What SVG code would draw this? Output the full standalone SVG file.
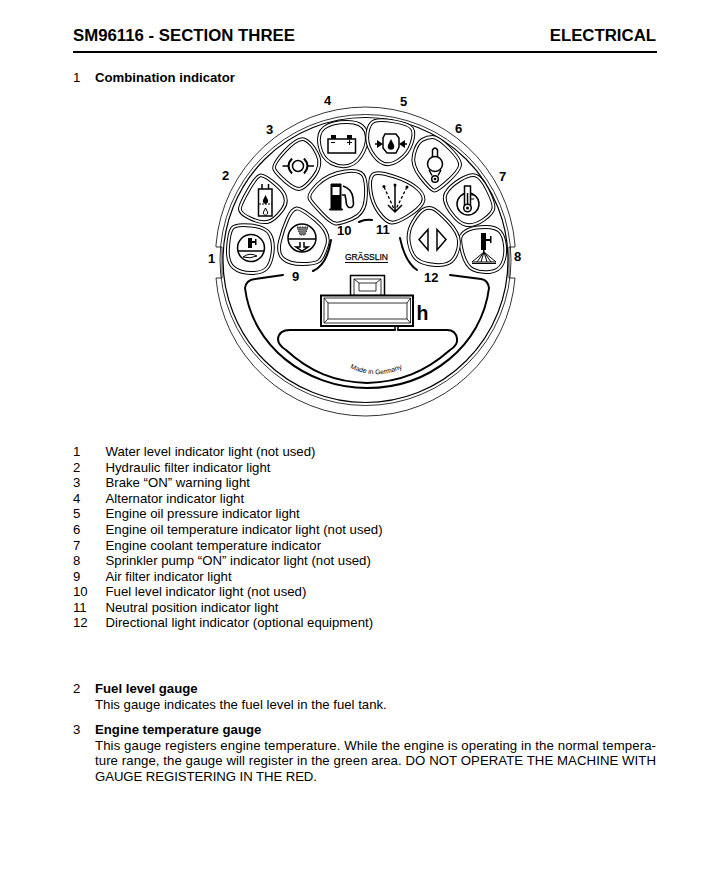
<svg xmlns="http://www.w3.org/2000/svg" width="703" height="869" viewBox="0 0 703 869">
<style>
text{font-family:"Liberation Sans",Arial,sans-serif;fill:#000}
.t{font-size:13.2px}
.b{font-size:13.2px;font-weight:700}
.n{font-size:13px;font-weight:700}
.line{fill:none;stroke:#000;stroke-width:1}
.thin{fill:none;stroke:#000;stroke-width:.8}
.thick{fill:none;stroke:#000;stroke-width:2;stroke-linecap:round}
.pa{fill:#fff;stroke:#000;stroke-width:3.8}
.pb{fill:none;stroke:#fff;stroke-width:1.8}
.ic{fill:none;stroke:#000;stroke-width:1.5}
.k{fill:#000;stroke:none}
</style>
<rect width="703" height="869" fill="#fff"/>
<g id="header">
<text x="73" y="41" style="font-size:16.8px;font-weight:700">SM96116 - SECTION THREE</text>
<text x="656" y="41" text-anchor="end" style="font-size:16.8px;font-weight:700">ELECTRICAL</text>
<rect x="73" y="51" width="584" height="2" fill="#000"/>
<text class="t" x="73" y="82">1</text>
<text class="b" x="95" y="82">Combination indicator</text>
</g>
<g id="dial">
<path class="thin" d="M216 245 A150 150 0 0 1 365.500 107 A150 150 0 0 1 515 245 V247 H509"/>
<path class="thin" d="M216 245 V247 H222 V278 H216 A150 150 0 0 0 365.500 416 A150 150 0 0 0 515 278 H509 V247"/>
<circle class="thin" cx="365.500" cy="260" r="145.500"/>
<circle fill="none" stroke="#000" stroke-width="1.200" cx="365.500" cy="260" r="142.500"/>
<path class="thick" d="M283 275 L255 279 Q246 280 245 288 C252 345 305 388 367 388 C430 388 482 345 489 288 Q488 280 481 279 L450 275"/>
<path class="thick" d="M395 330 L290 330 Q279 330 278 339 Q278 345 286 350 C310 372 335 382 367 383 C400 382 425 372 450 350 Q458 345 457 339 Q456 330 447 330 L398 330"/>
<path fill="none" stroke="#000" stroke-width="1.500" d="M395 326 L395 330 M398 326 L398 330"/>
<path class="thick" d="M313 271 Q327 265 331 240"/>
<path class="thick" d="M400 238 Q405 262 417 270"/>
<path class="thick" d="M359 222 Q365 219 372 220"/>
<rect x="350.500" y="275.500" width="34" height="20" fill="#fff" stroke="#000" stroke-width="1.500"/>
<path class="thin" d="M354 295 V279 H381 V295 M359 283 H376 V291 H359 Z M354 279 L359 283 M381 279 L376 283"/>
<rect x="321" y="295.500" width="92" height="30.500" fill="#fff" stroke="#000" stroke-width="2"/>
<path class="thin" d="M324 298 H410.500 V323 H324 Z M328 303 H407 V319 H328 Z M324 298 L328 303 M410.500 298 L407 303 M324 323 L328 319 M410.500 323 L407 319"/>
<text x="416.500" y="319.500" style="font-size:19.500px;font-weight:700">h</text>
<text x="345" y="260" textLength="43" lengthAdjust="spacingAndGlyphs" style="font-size:9.500px;stroke:#000;stroke-width:.25">GRÄSSLIN</text>
<rect x="345" y="262" width="43" height="1" fill="#000"/>
<path id="mig" fill="none" d="M350 368 Q375 380 401 369 L420 360"/>
<text style="font-size:6.800px"><textPath href="#mig">Made in Germany</textPath></text>
</g>
<g id="node-1">
<path class="pa" d="M232 228.500 Q235 224 250.500 225.500 Q266 227 270 234.500 Q274 242 272.500 253 Q271 264 266.500 268.500 Q262 273 251 273 Q240 273 233.500 267.500 Q227 262 228 247.500 Q229 233 232 228.500Z"/>
<path class="pb" d="M232 228.500 Q235 224 250.500 225.500 Q266 227 270 234.500 Q274 242 272.500 253 Q271 264 266.500 268.500 Q262 273 251 273 Q240 273 233.500 267.500 Q227 262 228 247.500 Q229 233 232 228.500Z"/>
<circle class="ic" cx="251" cy="248" r="13.500"/>
<path class="k" d="M248 238 H252 V248 H248 Z M252 241 H256 V243 H252 Z M255 239 H256.500 V245 H255 Z"/>
<path class="ic" d="M238 251 H264"/>
<path class="line" d="M243 257 Q250 252 257 256 Q250 259 243 257"/>
</g>
<g id="node-2">
<path class="pa" d="M260 175.500 Q264 174 277.500 186 Q291 198 282.500 209.500 Q274 221 267 222 Q260 223 249.500 218 Q239 213 240 208 Q241 203 248.500 190 Q256 177 260 175.500Z"/>
<path class="pb" d="M260 175.500 Q264 174 277.500 186 Q291 198 282.500 209.500 Q274 221 267 222 Q260 223 249.500 218 Q239 213 240 208 Q241 203 248.500 190 Q256 177 260 175.500Z"/>
<rect class="ic" x="258.500" y="189" width="13.500" height="27"/>
<path class="ic" d="M262 184 V189 M268.500 184 V189"/>
<path class="line" d="M259 204 H272" stroke-dasharray="2 1"/>
<path class="k" d="M265.500 195 L268 200 A2.700 2.700 0 1 1 263 200Z"/>
<path class="line" d="M265.500 208 L267.500 212 A2.200 2.200 0 1 1 263.500 212Z"/>
</g>
<g id="node-3">
<path class="pa" d="M285 151 Q298 137 304.500 139.500 Q311 142 317 153.500 Q323 165 313.500 177 Q304 189 299 189 Q294 189 285.500 181.500 Q277 174 274.500 169.500 Q272 165 285 151Z"/>
<path class="pb" d="M285 151 Q298 137 304.500 139.500 Q311 142 317 153.500 Q323 165 313.500 177 Q304 189 299 189 Q294 189 285.500 181.500 Q277 174 274.500 169.500 Q272 165 285 151Z"/>
<circle class="ic" cx="298" cy="166" r="5.500"/>
<path class="ic" d="M282.500 166 H288 M308 166 H314"/>
<path fill="none" stroke="#000" stroke-width="2" d="M292 158.500 Q285 166 292 173.500 M304 158.500 Q311 166 304 173.500"/>
</g>
<g id="node-4">
<path class="pa" d="M324.500 127.500 Q332 122 347 122 Q362 122 365.500 131 Q369 140 363.500 151.500 Q358 163 349 165.500 Q340 168 331 163 Q322 158 319.500 145.500 Q317 133 324.500 127.500Z"/>
<path class="pb" d="M324.500 127.500 Q332 122 347 122 Q362 122 365.500 131 Q369 140 363.500 151.500 Q358 163 349 165.500 Q340 168 331 163 Q322 158 319.500 145.500 Q317 133 324.500 127.500Z"/>
<rect class="ic" x="328" y="139" width="27.500" height="14"/>
<path class="k" d="M331 135 H336 V139 H331 Z M347 135 H352 V139 H347 Z"/>
<path class="line" d="M331 142.500 H335 M347 142.500 H352 M349.500 140 V145"/>
</g>
<g id="node-5">
<path class="pa" d="M374.500 121 Q380 119 394.500 121.500 Q409 124 412 128.500 Q415 133 411.500 143.500 Q408 154 399 160 Q390 166 383.500 163.500 Q377 161 371.500 152 Q366 143 367.500 133 Q369 123 374.500 121Z"/>
<path class="pb" d="M374.500 121 Q380 119 394.500 121.500 Q409 124 412 128.500 Q415 133 411.500 143.500 Q408 154 399 160 Q390 166 383.500 163.500 Q377 161 371.500 152 Q366 143 367.500 133 Q369 123 374.500 121Z"/>
<path class="ic" d="M385 134 H396 L399 138 L399 147 L396 153 H387 L383 148 L383 138Z"/>
<path class="k" d="M391 139 L394 145 A3.300 3.300 0 1 1 388 145Z"/>
<path class="ic" d="M375 144 H381 M401 144 H407"/>
<path class="k" d="M383 144 L377 140 V148Z M399 144 L405 140 V148Z"/>
</g>
<g id="node-6">
<path class="pa" d="M414 154 Q417 143 422 140 Q427 137 432.500 137 Q438 137 449.500 148.500 Q461 160 460 165.500 Q459 171 448 181 Q437 191 434 190.500 Q431 190 421 177.500 Q411 165 414 154Z"/>
<path class="pb" d="M414 154 Q417 143 422 140 Q427 137 432.500 137 Q438 137 449.500 148.500 Q461 160 460 165.500 Q459 171 448 181 Q437 191 434 190.500 Q431 190 421 177.500 Q411 165 414 154Z"/>
<circle class="ic" cx="435" cy="164" r="7.500"/>
<path class="ic" d="M432.500 157 V150 Q435 146 437.500 150 V157"/>
<circle class="ic" cx="435" cy="179" r="3.300"/>
<circle class="k" cx="435" cy="179" r="1.300"/>
<path class="ic" d="M429 170 L432 175.500 M441 170 L438 175.500"/>
</g>
<g id="node-7">
<path class="pa" d="M446 193 Q450 186 460 180 Q470 174 475.500 175.500 Q481 177 487.500 190 Q494 203 493.500 208 Q493 213 484 219.500 Q475 226 467 225 Q459 224 450.500 212 Q442 200 446 193Z"/>
<path class="pb" d="M446 193 Q450 186 460 180 Q470 174 475.500 175.500 Q481 177 487.500 190 Q494 203 493.500 208 Q493 213 484 219.500 Q475 226 467 225 Q459 224 450.500 212 Q442 200 446 193Z"/>
<circle class="ic" cx="468" cy="204" r="11"/>
<rect x="464.500" y="186" width="6" height="20" fill="#fff" stroke="#000" stroke-width="1.500"/>
<circle cx="467.500" cy="208" r="3.800" fill="#fff" stroke="#000" stroke-width="1.500"/>
<circle class="k" cx="467.500" cy="208" r="1.500"/>
<path class="k" d="M466.800 193 H468.300 V205 H466.800 Z"/>
<path class="line" d="M471 195 H474 M471 199 H474"/>
</g>
<g id="node-8">
<path class="pa" d="M461 236 Q463 232 469 229.500 Q475 227 485.500 227 Q496 227 500 231.500 Q504 236 505 246 Q506 256 502.500 263.500 Q499 271 489.500 272 Q480 273 473 269.500 Q466 266 462.500 253 Q459 240 461 236Z"/>
<path class="pb" d="M461 236 Q463 232 469 229.500 Q475 227 485.500 227 Q496 227 500 231.500 Q504 236 505 246 Q506 256 502.500 263.500 Q499 271 489.500 272 Q480 273 473 269.500 Q466 266 462.500 253 Q459 240 461 236Z"/>
<path class="k" d="M481 233 H486 V239 H490 V236 H491.500 V243 H490 V241 H486 V250 H484.500 V252 H483 V250 H481 Z"/>
<path class="line" d="M484 252 L472 262 H496 Z M484 252 L477 262 M484 252 L481 262 M484 252 L487 262 M484 252 L491 262 M472 263.500 H496"/>
</g>
<g id="node-9">
<path class="pa" d="M296.500 208.500 Q301 208 316 220.500 Q331 233 327 245.500 Q323 258 319 261 Q315 264 302 264 Q289 264 283 258.500 Q277 253 280 241 Q283 229 287.500 219 Q292 209 296.500 208.500Z"/>
<path class="pb" d="M296.500 208.500 Q301 208 316 220.500 Q331 233 327 245.500 Q323 258 319 261 Q315 264 302 264 Q289 264 283 258.500 Q277 253 280 241 Q283 229 287.500 219 Q292 209 296.500 208.500Z"/>
<circle class="ic" cx="302" cy="238" r="14"/>
<path class="ic" d="M288 239 H316"/>
<path fill="#777" stroke="#000" stroke-width=".8" stroke-dasharray="1.500 1" d="M297 227 H308 L305 235 H300Z"/>
<path class="ic" d="M300 242 V247 H296 L302 251 L308 247 H304 V242"/>
</g>
<g id="node-10">
<path class="pa" d="M317.500 184.500 Q328 174 345 171.500 Q362 169 364.500 178 Q367 187 365.500 200.500 Q364 214 352 219 Q340 224 335.500 223.500 Q331 223 322 213.500 Q313 204 310 199.500 Q307 195 317.500 184.500Z"/>
<path class="pb" d="M317.500 184.500 Q328 174 345 171.500 Q362 169 364.500 178 Q367 187 365.500 200.500 Q364 214 352 219 Q340 224 335.500 223.500 Q331 223 322 213.500 Q313 204 310 199.500 Q307 195 317.500 184.500Z"/>
<path fill="#000" stroke="#000" stroke-width="1" d="M331 184 H341 V209 H342.500 V210 H329.500 V209 H331Z"/>
<rect x="332.500" y="187" width="7" height="8" fill="#fff"/>
<path fill="none" stroke="#000" stroke-width="1.600" d="M343 186 Q352 189 353 198 L353.500 204 Q353 208 349 207.500 Q346 206 346 200 L345 195 H342"/>
</g>
<g id="node-11">
<path class="pa" d="M373 174.500 Q377 171 394 176.500 Q411 182 418.500 189.500 Q426 197 422.500 203 Q419 209 408 216 Q397 223 391.500 222.500 Q386 222 379 212.500 Q372 203 370.500 190.500 Q369 178 373 174.500Z"/>
<path class="pb" d="M373 174.500 Q377 171 394 176.500 Q411 182 418.500 189.500 Q426 197 422.500 203 Q419 209 408 216 Q397 223 391.500 222.500 Q386 222 379 212.500 Q372 203 370.500 190.500 Q369 178 373 174.500Z"/>
<path fill="none" stroke="#000" stroke-width="1.300" stroke-dasharray="3 2" d="M384 187 L395 211 M407 187 L395 211"/>
<path fill="none" stroke="#000" stroke-width="1.500" d="M395 185 V212 M388 205 L395 212 L402 205"/>
<circle class="k" cx="384" cy="186.500" r="1.500"/><circle class="k" cx="395" cy="185" r="1.500"/><circle class="k" cx="407" cy="187" r="1.500"/>
</g>
<g id="node-12">
<path class="pa" d="M413 222 Q419 212 423.500 209.500 Q428 207 432.500 208.500 Q437 210 448 221.500 Q459 233 459 242 Q459 251 454 258.500 Q449 266 435.500 265 Q422 264 416.500 259 Q411 254 409 243 Q407 232 413 222Z"/>
<path class="pb" d="M413 222 Q419 212 423.500 209.500 Q428 207 432.500 208.500 Q437 210 448 221.500 Q459 233 459 242 Q459 251 454 258.500 Q449 266 435.500 265 Q422 264 416.500 259 Q411 254 409 243 Q407 232 413 222Z"/>
<path class="ic" d="M419 239.500 L428 229.500 V250Z M437 229.500 L446 239.500 L437 250Z"/>
</g>
<g id="callouts">
<text class="n" x="208" y="263">1</text>
<text class="n" x="222" y="180">2</text>
<text class="n" x="266" y="134">3</text>
<text class="n" x="324" y="105">4</text>
<text class="n" x="400" y="106">5</text>
<text class="n" x="455" y="133">6</text>
<text class="n" x="499" y="181">7</text>
<text class="n" x="514" y="261">8</text>
<text class="n" x="292" y="281">9</text>
<text class="n" x="337" y="235">10</text>
<text class="n" x="376" y="234">11</text>
<text class="n" x="424" y="282">12</text>
</g>
<g id="legend">
<text class="t" x="73" y="456">1</text><text class="t" x="105.500" y="456">Water level indicator light (not used)</text>
<text class="t" x="73" y="472">2</text><text class="t" x="105.500" y="472">Hydraulic filter indicator light</text>
<text class="t" x="73" y="487">3</text><text class="t" x="105.500" y="487">Brake “ON” warning light</text>
<text class="t" x="73" y="503">4</text><text class="t" x="105.500" y="503">Alternator indicator light</text>
<text class="t" x="73" y="518">5</text><text class="t" x="105.500" y="518">Engine oil pressure indicator light</text>
<text class="t" x="73" y="534">6</text><text class="t" x="105.500" y="534">Engine oil temperature indicator light (not used)</text>
<text class="t" x="73" y="550">7</text><text class="t" x="105.500" y="550">Engine coolant temperature indicator</text>
<text class="t" x="73" y="565">8</text><text class="t" x="105.500" y="565">Sprinkler pump “ON” indicator light (not used)</text>
<text class="t" x="73" y="581">9</text><text class="t" x="105.500" y="581">Air filter indicator light</text>
<text class="t" x="73" y="596">10</text><text class="t" x="105.500" y="596">Fuel level indicator light (not used)</text>
<text class="t" x="73" y="612">11</text><text class="t" x="105.500" y="612">Neutral position indicator light</text>
<text class="t" x="73" y="627">12</text><text class="t" x="105.500" y="627">Directional light indicator (optional equipment)</text>
</g>
<g id="body">
<text class="t" x="73" y="693">2</text><text class="b" x="95" y="693">Fuel level gauge</text>
<text class="t" x="95" y="709">This gauge indicates the fuel level in the fuel tank.</text>
<text class="t" x="73" y="734">3</text><text class="b" x="95" y="734">Engine temperature gauge</text>
<text class="t" x="95" y="750" textLength="561">This gauge registers engine temperature. While the engine is operating in the normal tempera-</text>
<text class="t" x="95" y="765" textLength="561">ture range, the gauge will register in the green area. DO NOT OPERATE THE MACHINE WITH</text>
<text class="t" x="95" y="781" textLength="222">GAUGE REGISTERING IN THE RED.</text>
</g>
</svg>
